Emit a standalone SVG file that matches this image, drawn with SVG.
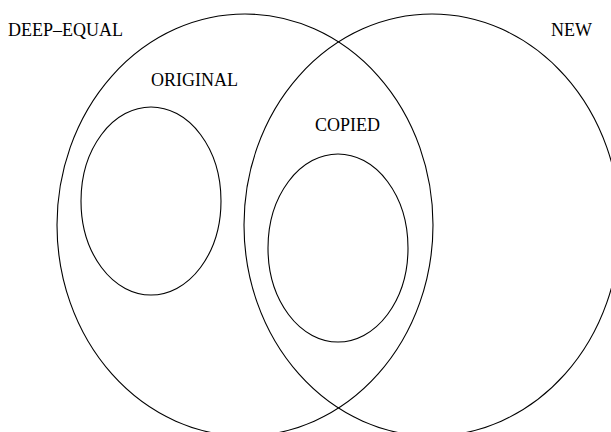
<svg xmlns="http://www.w3.org/2000/svg" width="611" height="432" viewBox="0 0 611 432">
<style>
.set{fill:none;stroke:#000;stroke-width:1.1}
.lbl{font-family:"Liberation Serif","Times New Roman",serif;font-size:18px;fill:#000}
</style>
<rect width="611" height="432" fill="#fff"/>
<g id="deep-equal">
<ellipse class="set" cx="245" cy="225" rx="188" ry="211"/>
<text class="lbl" x="8" y="36">DEEP–EQUAL</text>
</g>
<g id="new">
<ellipse class="set" cx="432" cy="225" rx="188" ry="211"/>
<text class="lbl" x="551" y="36">NEW</text>
</g>
<g id="original">
<ellipse class="set" cx="151" cy="201" rx="70" ry="94"/>
<text class="lbl" x="151" y="86">ORIGINAL</text>
</g>
<g id="copied">
<ellipse class="set" cx="338" cy="248" rx="70" ry="94"/>
<text class="lbl" x="315" y="131">COPIED</text>
</g>
<g id="connectors"></g>
</svg>
